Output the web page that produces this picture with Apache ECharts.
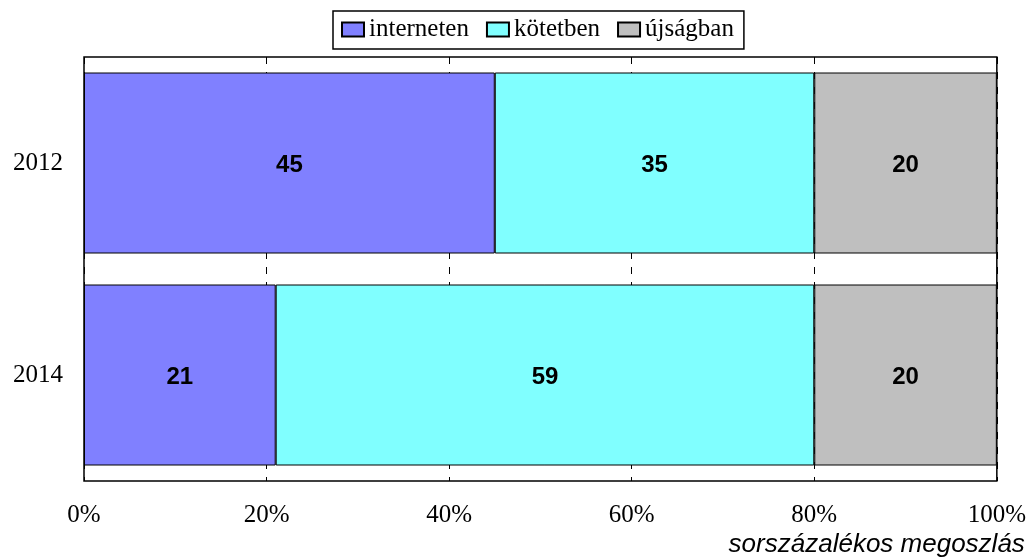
<!DOCTYPE html>
<html>
<head>
<meta charset="utf-8">
<title>sorszázalékos megoszlás</title>
<script src="https://cdn.jsdelivr.net/npm/echarts@6/dist/echarts.min.js"></script>
<style>
    html, body { margin: 0; padding: 0; background: #fff; }
    #chart { width: 1029px; height: 558px; }
</style>
</head>
<body>
<div id="chart"></div>
<script>
// adatok
var years = ['2012', '2014'];
var interneten = [45, 21];
var kotetben = [35, 59];
var ujsagban = [20, 20];

var serif = 'Liberation Serif';
var sans = 'Liberation Sans';

function barSeries(name, data, color) {
    return {
        name: name,
        type: 'bar',
        stack: 'total',
        barWidth: 181,
        data: data,
        itemStyle: { color: color, borderColor: '#000', borderWidth: 1 },
        label: {
            show: true,
            position: 'inside',
            offset: [0, 2],
            color: '#000',
            fontFamily: sans,
            fontWeight: 'bold',
            fontSize: 24
        }
    };
}

echarts.init(document.querySelector('#chart')).setOption({
    animation: false,
    legend: {
        left: 333,
        top: 11,
        padding: [6, 10, 7, 8],
        borderColor: '#000',
        borderWidth: 1.5,
        itemWidth: 22,
        itemHeight: 14,
        itemGap: 17,
        icon: 'rect',
        textStyle: { fontFamily: serif, fontSize: 25, color: '#000' },
        data: ['interneten', 'kötetben', 'újságban']
    },
    grid: {
        left: 84,
        right: 31,
        top: 57,
        bottom: 76,
        show: true,
        borderColor: '#000',
        borderWidth: 1.5,
        backgroundColor: 'transparent'
    },
    xAxis: {
        type: 'value',
        min: 0,
        max: 100,
        interval: 20,
        name: 'sorszázalékos megoszlás',
        nameLocation: 'end',
        nameGap: 28,
        nameTextStyle: {
            fontFamily: sans,
            fontStyle: 'italic',
            fontSize: 26,
            color: '#000',
            align: 'right',
            verticalAlign: 'top',
            padding: [51, 0, 0, 0]
        },
        axisLine: { show: false },
        axisTick: { show: false },
        axisLabel: {
            formatter: '{value}%',
            fontFamily: serif,
            fontSize: 25,
            color: '#000',
            margin: 22
        },
        splitLine: {
            show: true,
            lineStyle: { color: '#000', width: 1, type: [7, 8] }
        }
    },
    yAxis: {
        type: 'category',
        inverse: true,
        data: years,
        axisLine: { show: false },
        axisTick: { show: false },
        axisLabel: {
            fontFamily: serif,
            fontSize: 25,
            color: '#000',
            margin: 21,
            padding: [4, 0, 0, 0]
        }
    },
    series: [
        barSeries('interneten', interneten, '#8080ff'),
        barSeries('kötetben', kotetben, '#80ffff'),
        barSeries('újságban', ujsagban, '#bfbfbf')
    ]
});
</script>
</body>
</html>
